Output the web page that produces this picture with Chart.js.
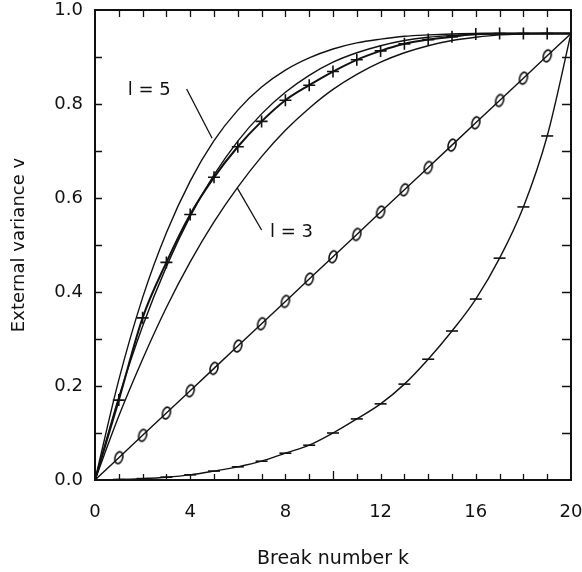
<!DOCTYPE html>
<html>
<head>
<meta charset="utf-8">
<script src="https://cdn.jsdelivr.net/npm/chart.js@4"></script>
<style>
  html, body { margin: 0; padding: 0; background: #fff; }
  #wrap { width: 582px; height: 572px; }
</style>
</head>
<body>
<div id="wrap"><canvas id="chart-variance"></canvas></div>
<script>
// break number k
var breaks = [0, 1, 2, 3, 4, 5, 6, 7, 8, 9, 10, 11, 12, 13, 14, 15, 16, 17, 18, 19, 20];
// smooth curves l = 5, l = 4, l = 3
var curveL5 = [0, 0.213, 0.388, 0.526, 0.636, 0.722, 0.787, 0.836, 0.872, 0.898, 0.917, 0.930, 0.938, 0.944, 0.947, 0.949, 0.950, 0.950, 0.950, 0.950, 0.950];
var curveL4 = [0, 0.176, 0.327, 0.454, 0.561, 0.649, 0.721, 0.779, 0.825, 0.861, 0.889, 0.909, 0.924, 0.935, 0.942, 0.946, 0.948, 0.949, 0.950, 0.950, 0.950];
var curveL3 = [0, 0.136, 0.257, 0.367, 0.464, 0.549, 0.623, 0.688, 0.744, 0.791, 0.831, 0.863, 0.889, 0.909, 0.924, 0.935, 0.942, 0.947, 0.949, 0.950, 0.950];
// measured series
var plusSeries = [0, 0.170, 0.345, 0.463, 0.565, 0.644, 0.709, 0.763, 0.808, 0.840, 0.869, 0.894, 0.913, 0.928, 0.937, 0.943, 0.949, 0.950, 0.950, 0.950, 0.950];
var ovalSeries = [0, 0.0475, 0.095, 0.1425, 0.19, 0.2375, 0.285, 0.3325, 0.38, 0.4275, 0.475, 0.5225, 0.57, 0.6175, 0.665, 0.7125, 0.76, 0.8075, 0.855, 0.9025, 0.95];
var dashSeries = [0, 0.001, 0.003, 0.006, 0.011, 0.019, 0.028, 0.040, 0.057, 0.074, 0.100, 0.130, 0.162, 0.204, 0.257, 0.317, 0.385, 0.472, 0.581, 0.732, 0.950];
// curve labels: text, label position, leader start, leader end (data units)
var curveLabels = [
  { text: 'l = 5', at: [1.38, 0.83], from: [3.85, 0.832], to: [4.92, 0.727] },
  { text: 'l = 3', at: [7.35, 0.528], from: [7.0, 0.532], to: [5.97, 0.622] }
];

function pts(arr) {
  return breaks.map(function(k, i) { return { x: k, y: arr[i] }; });
}

// small oval drawn like a "0"
function makeOval() {
  var c = document.createElement('canvas');
  c.width = 12; c.height = 16;
  var g = c.getContext('2d');
  g.strokeStyle = '#111';
  g.lineWidth = 1.6;
  g.beginPath();
  g.ellipse(6, 8, 3.8, 6, 0.3, 0, Math.PI * 2);
  g.stroke();
  return c;
}

function innerOnly(r) {
  return function(ctx) {
    var i = ctx.dataIndex;
    return (i > 0 && i < breaks.length - 1) ? r : 0;
  };
}

// frame, inward ticks and curve labels
var framePlugin = {
  id: 'frame',
  afterDatasetsDraw: function(chart) {
    var ctx = chart.ctx, a = chart.chartArea;
    var xs = chart.scales.x, ys = chart.scales.y;
    ctx.save();
    ctx.strokeStyle = '#111';
    ctx.lineWidth = 2;
    ctx.strokeRect(a.left, a.top, a.right - a.left, a.bottom - a.top);
    ctx.lineWidth = 1.3;
    ctx.beginPath();
    for (var k = 1; k < 20; k++) {
      var px = Math.round(xs.getPixelForValue(k)) + 0.5;
      var len = (k === 10) ? 9 : 6;
      ctx.moveTo(px, a.bottom); ctx.lineTo(px, a.bottom - len);
      ctx.moveTo(px, a.top); ctx.lineTo(px, a.top + 7);
    }
    for (var j = 1; j < 10; j++) {
      var py = Math.round(ys.getPixelForValue(j / 10)) + 0.5;
      ctx.moveTo(a.left, py); ctx.lineTo(a.left + 7, py);
      ctx.moveTo(a.right, py); ctx.lineTo(a.right - 9, py);
    }
    ctx.stroke();

    ctx.fillStyle = '#111';
    ctx.font = '18px "DejaVu Sans"';
    ctx.textBaseline = 'middle';
    ctx.textAlign = 'left';
    ctx.lineWidth = 1.3;
    curveLabels.forEach(function(l) {
      ctx.fillText(l.text, xs.getPixelForValue(l.at[0]), ys.getPixelForValue(l.at[1]));
      ctx.beginPath();
      ctx.moveTo(xs.getPixelForValue(l.from[0]), ys.getPixelForValue(l.from[1]));
      ctx.lineTo(xs.getPixelForValue(l.to[0]), ys.getPixelForValue(l.to[1]));
      ctx.stroke();
    });
    ctx.restore();
  }
};

Chart.defaults.font.family = '"DejaVu Sans"';
Chart.defaults.font.size = 18;
Chart.defaults.color = '#111';

var smooth = { borderColor: '#111', borderWidth: 1.4, pointRadius: 0, cubicInterpolationMode: 'monotone', fill: false };

new Chart(document.getElementById('chart-variance').getContext('2d'), {
  type: 'line',
  data: {
    datasets: [
      Object.assign({ label: 'l = 5', data: pts(curveL5) }, smooth),
      Object.assign({ label: 'l = 4', data: pts(curveL4) }, smooth),
      Object.assign({ label: 'l = 3', data: pts(curveL3) }, smooth),
      { label: 'plus', data: pts(plusSeries), borderColor: '#111', borderWidth: 2, cubicInterpolationMode: 'monotone',
        pointStyle: 'cross', pointRadius: innerOnly(6), pointBorderColor: '#111', pointBorderWidth: 1.6, pointHoverRadius: 0 },
      { label: 'oval', data: pts(ovalSeries), borderColor: '#111', borderWidth: 1.4, tension: 0,
        pointStyle: makeOval(), pointRadius: innerOnly(5), pointHoverRadius: 0 },
      { label: 'dash', data: pts(dashSeries), borderColor: '#111', borderWidth: 1.4, cubicInterpolationMode: 'monotone',
        pointStyle: 'line', pointRadius: innerOnly(6), pointBorderColor: '#111', pointBorderWidth: 1.6, pointHoverRadius: 0 }
    ]
  },
  options: {
    responsive: true,
    maintainAspectRatio: false,
    animation: false,
    events: [],
    layout: { padding: { top: 10, right: 11, left: 0, bottom: 0 } },
    plugins: { legend: { display: false }, tooltip: { enabled: false } },
    scales: {
      x: {
        type: 'linear', min: 0, max: 20,
        grid: { display: false, drawTicks: false },
        border: { display: false },
        ticks: { stepSize: 4, padding: 22, maxRotation: 0 },
        title: { display: true, text: 'Break number k', font: { size: 19 }, padding: { top: 0, bottom: 2 } },
        afterFit: function(s) { s.height = 92; s.paddingLeft = 0; s.paddingRight = 0; }
      },
      y: {
        type: 'linear', min: 0, max: 1,
        grid: { display: false, drawTicks: false },
        border: { display: false },
        ticks: { stepSize: 0.2, padding: 12, callback: function(v) { return v.toFixed(1); } },
        title: { display: true, text: 'External variance v', font: { size: 18 }, padding: { top: 9, bottom: 0 } },
        afterFit: function(s) { s.width = 95; s.paddingTop = 0; s.paddingBottom = 0; }
      }
    }
  },
  plugins: [framePlugin]
});
</script>
</body>
</html>
